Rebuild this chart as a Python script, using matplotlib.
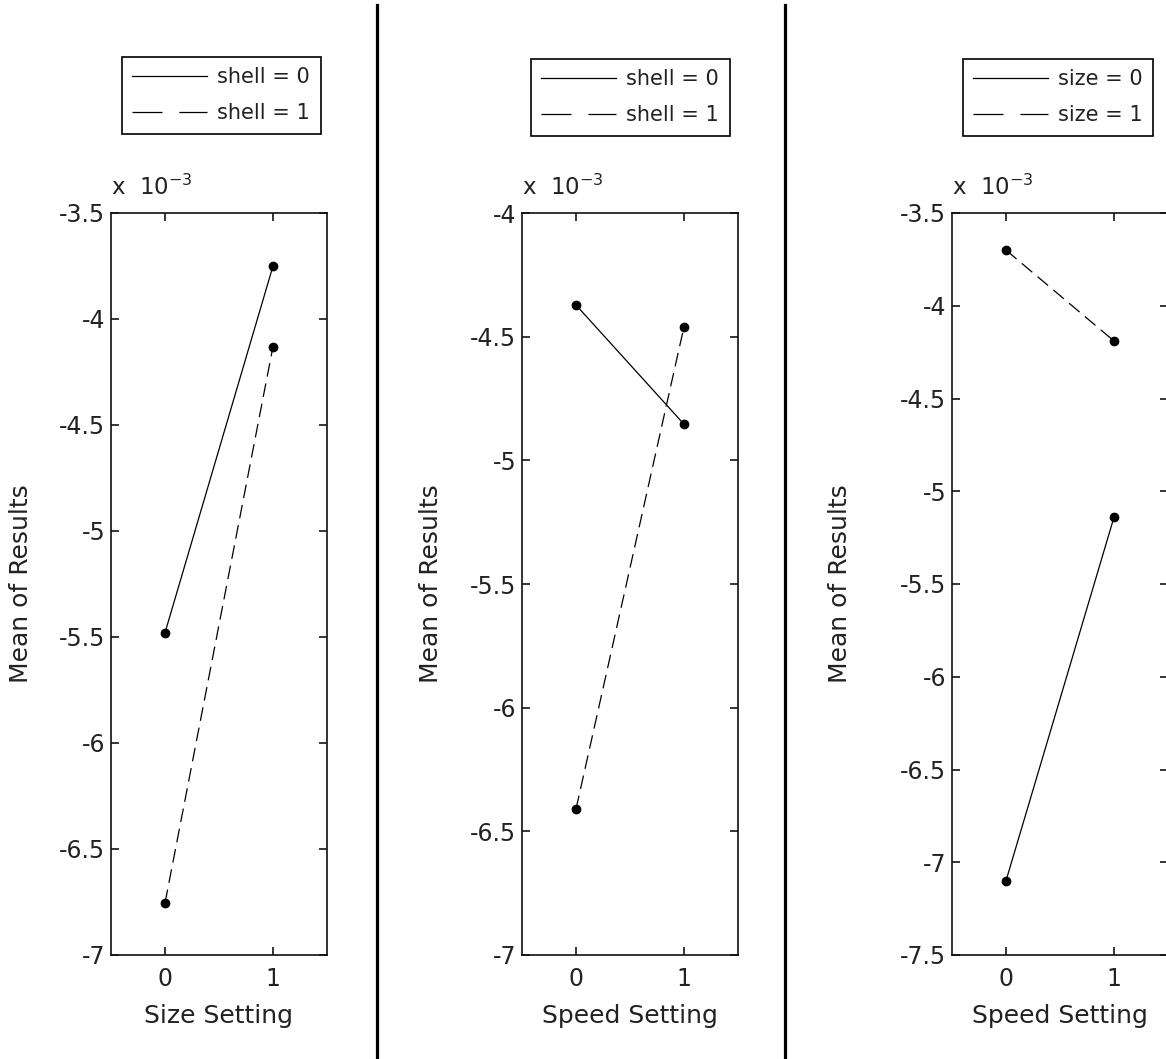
import matplotlib
matplotlib.use("Agg")
import matplotlib.pyplot as plt
from matplotlib.lines import Line2D
from matplotlib.ticker import FuncFormatter, MultipleLocator

plt.rcParams['font.family'] = ['DejaVu Sans']
plt.rcParams['mathtext.fontset'] = 'dejavusans'

# ---- data ----
settings = [0, 1]

# panel 1: mean of results vs size setting, by shell
p1_shell0 = [-5.48e-3, -3.75e-3]
p1_shell1 = [-6.755e-3, -4.13e-3]

# panel 2: mean of results vs speed setting, by shell
p2_shell0 = [-4.372e-3, -4.854e-3]
p2_shell1 = [-6.41e-3, -4.46e-3]

# panel 3: mean of results vs speed setting, by size
p3_size0 = [-7.10e-3, -5.14e-3]
p3_size1 = [-3.70e-3, -4.19e-3]

xlabels = ["Size Setting", "Speed Setting", "Speed Setting"]
legend_labels = [["shell = 0", "shell = 1"],
                 ["shell = 0", "shell = 1"],
                 ["size = 0", "size = 1"]]
ylims = [(-7e-3, -3.5e-3), (-7e-3, -4e-3), (-7.5e-3, -3.5e-3)]

W, H = 1166, 1059
fig = plt.figure(figsize=(W / 100, H / 100), dpi=100)
fig.patch.set_facecolor('white')

TXT = '#222222'
# axes pixel geometry
lefts = [111, 522, 952]
ax_w = 216
ax_top, ax_bot = 213, 955
label_x = [-0.36, -0.365, -0.462]
legend_pos = [(122, 57), (531, 59), (963, 59)]

series = [(p1_shell0, p1_shell1), (p2_shell0, p2_shell1), (p3_size0, p3_size1)]

fmt = FuncFormatter(lambda v, p: ('%g' % round(v * 1e3, 3)))

LW = 0.9
LINE_DASH = (11, 5.5)
LEG_DASH = (24, 13.5)

for i in range(3):
    ax = fig.add_axes([lefts[i] / W, (H - ax_bot) / H, ax_w / W, (ax_bot - ax_top) / H])
    s0, s1 = series[i]
    ax.plot(settings, s0, color='black', lw=LW, marker='o', ms=6,
            markerfacecolor='black', markeredgecolor='black', solid_capstyle='butt')
    ax.plot(settings, s1, color='black', lw=LW, marker='o', ms=6,
            markerfacecolor='black', markeredgecolor='black', dashes=LINE_DASH)
    ax.set_xlim(-0.5, 1.5)
    ax.set_ylim(*ylims[i])
    ax.set_xticks(settings)
    ax.yaxis.set_major_locator(MultipleLocator(0.5e-3))
    ax.yaxis.set_major_formatter(fmt)
    ax.tick_params(direction='in', length=6, width=1.1, top=True, right=True,
                   labelsize=17, colors='black', labelcolor=TXT)
    ax.tick_params(axis='x', pad=9)
    ax.tick_params(axis='y', pad=4)
    for sp in ax.spines.values():
        sp.set_linewidth(1.2)
        sp.set_color('#111111')
    ax.set_xlabel(xlabels[i], fontsize=18, color=TXT, labelpad=9)
    ax.set_ylabel("Mean of Results", fontsize=18, color=TXT)
    ax.yaxis.set_label_coords(label_x[i], 0.5)
    ax.annotate(r'x  $10^{-3}$', xy=(0, 1), xycoords='axes fraction',
                xytext=(0, 13), textcoords='offset points',
                ha='left', va='baseline', fontsize=16.5, color=TXT)

    handles = [Line2D([], [], color='black', lw=LW),
               Line2D([], [], color='black', lw=LW, dashes=LEG_DASH)]
    lx, ly = legend_pos[i]
    leg = fig.legend(handles, legend_labels[i], loc='upper left',
                     bbox_to_anchor=(lx / W, 1 - ly / H), bbox_transform=fig.transFigure,
                     borderaxespad=0, fontsize=15, handlelength=3.6, handletextpad=0.48,
                     borderpad=0.5, labelspacing=0.77, fancybox=False, framealpha=1,
                     edgecolor='black')
    leg.get_frame().set_linewidth(1.2)
    for t in leg.get_texts():
        t.set_color(TXT)

# vertical separators between panels
for xs in (377, 784.5):
    fig.add_artist(Line2D([xs / W, xs / W], [0, 1 - 5 / H], transform=fig.transFigure,
                          color='black', lw=2.3))

fig.savefig('out.png', dpi=100, facecolor='white')
